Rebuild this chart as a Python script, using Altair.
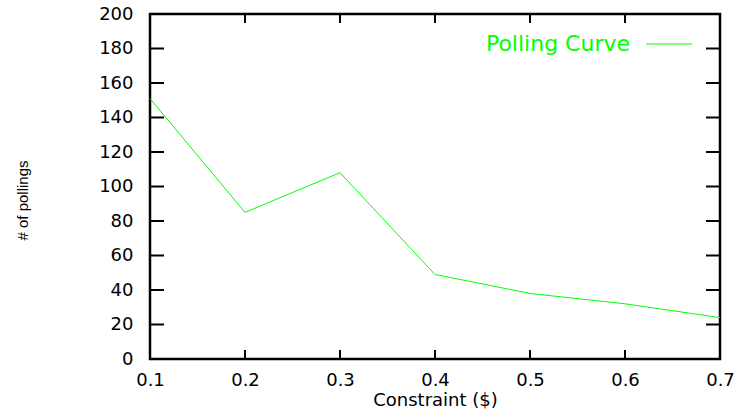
import altair as alt
import pandas as pd

# Polling count measured at each cost constraint
constraint = [0.1, 0.2, 0.3, 0.4, 0.5, 0.6, 0.7]
pollings = [151, 85, 108, 49, 38, 32, 24]

# Tick positions on the framed axes
x_ticks = [0.1, 0.2, 0.3, 0.4, 0.5, 0.6, 0.7]
y_ticks = [0, 20, 40, 60, 80, 100, 120, 140, 160, 180, 200]

series_name = "Polling Curve"
line_color = "#00ff00"
label_font = "DejaVu Sans"

W, H = 570, 345

curve = pd.DataFrame({"constraint": constraint, "pollings": pollings})
xt = pd.DataFrame({"constraint": x_ticks})
yt = pd.DataFrame({"pollings": y_ticks})
legend_df = pd.DataFrame({"series": [series_name]})

x_scale = alt.Scale(domain=[0.1, 0.7], nice=False, zero=False)
y_scale = alt.Scale(domain=[0, 200], nice=False, zero=True)

x_axis = alt.Axis(
    values=x_ticks,
    format=".1f",
    title="Constraint ($)",
    labelPadding=12,
    labelFlush=False,
    labelOverlap=False,
    titleX=W / 2,
    titleY=41,
    titleAlign="center",
    titleBaseline="middle",
)
y_axis = alt.Axis(
    values=y_ticks,
    format="d",
    title="# of pollings",
    labelPadding=17,
    labelFlush=False,
    labelOverlap=False,
    titleX=-128,
    titleY=186,
    titleAlign="center",
    titleBaseline="middle",
    titleFont="Liberation Sans",
    titleFontSize=15,
)

line = alt.Chart(curve).mark_line(color=line_color, strokeWidth=1).encode(
    x=alt.X("constraint:Q", scale=x_scale, axis=x_axis),
    y=alt.Y("pollings:Q", scale=y_scale, axis=y_axis),
)

tick_style = dict(color="black", strokeWidth=2)

bottom_ticks = alt.Chart(xt).mark_rule(**tick_style).encode(
    x=alt.X("constraint:Q", scale=x_scale, axis=x_axis),
    y=alt.value(H),
    y2=alt.value(H - 9),
)
top_ticks = alt.Chart(xt).mark_rule(**tick_style).encode(
    x=alt.X("constraint:Q", scale=x_scale, axis=x_axis),
    y=alt.value(0),
    y2=alt.value(9),
)
left_ticks = alt.Chart(yt).mark_rule(**tick_style).encode(
    y=alt.Y("pollings:Q", scale=y_scale, axis=y_axis),
    x=alt.value(0),
    x2=alt.value(14),
)
right_ticks = alt.Chart(yt).mark_rule(**tick_style).encode(
    y=alt.Y("pollings:Q", scale=y_scale, axis=y_axis),
    x=alt.value(W),
    x2=alt.value(W - 14),
)

# Key in the upper right: label followed by a line sample
key_text = alt.Chart(legend_df).mark_text(
    align="right", baseline="middle", color=line_color, font=label_font, fontSize=22
).encode(text="series:N", x=alt.value(480), y=alt.value(30))
key_line = alt.Chart(legend_df).mark_rule(color=line_color, strokeWidth=1).encode(
    x=alt.value(496), x2=alt.value(542), y=alt.value(30)
)

chart = (
    alt.layer(line, bottom_ticks, top_ticks, left_ticks, right_ticks, key_text, key_line)
    .properties(
        width=W,
        height=H,
        autosize=alt.AutoSizeParams(type="none"),
        padding={"left": 150, "top": 14, "right": 16, "bottom": 53},
        background="white",
    )
    .configure_view(stroke="black", strokeWidth=2.5)
    .configure_axis(
        domain=False,
        ticks=False,
        grid=False,
        labelFont=label_font,
        labelFontSize=18,
        labelColor="black",
        titleFont=label_font,
        titleFontSize=18,
        titleFontWeight="normal",
        titleColor="black",
    )
)

chart.save("out.html", embed_options={"renderer": "svg", "actions": False})
